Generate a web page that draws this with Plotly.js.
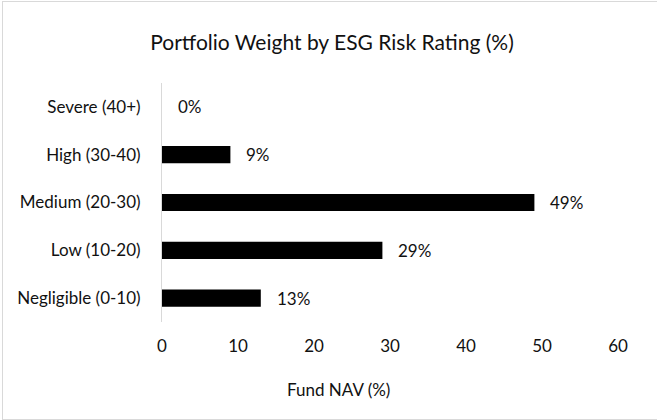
<!DOCTYPE html>
<html><head><meta charset="utf-8">
<script src="https://cdn.plot.ly/plotly-3.0.1.min.js"></script>
<style>
html,body{margin:0;padding:0;background:#fff;}
#wrap{position:relative;width:657px;height:420px;overflow:hidden;}
#chart{position:absolute;left:0;top:0;width:657px;height:420px;}
#frame{position:absolute;left:2px;top:1px;width:670px;height:417px;border:1px solid #d9d9d9;pointer-events:none;}
</style></head>
<body>
<div id="wrap"><div id="chart"></div><div id="frame"></div></div>
<script>
const categories = ["Negligible (0-10)", "Low (10-20)", "Medium (20-30)", "High (30-40)", "Severe (40+)"];
const weights = [13, 29, 49, 9, 0];
const labels = ["13%", "29%", "49%", "9%", "0%"];
const xTicks = [0, 10, 20, 30, 40, 50, 60];

const font = "Lato, 'Open Sans', sans-serif";
const txtColor = '#111111';
const annotations = categories.map((c, i) => ({
  x: weights[i], y: c, xref: 'x', yref: 'y', text: labels[i],
  showarrow: false, xanchor: 'left', xshift: 14,
  font: {family: font, size: 17, color: txtColor}
}));
annotations.push({
  x: (338-162)/456, y: (322-389) / 239, xref: 'paper', yref: 'paper', text: 'Fund NAV (%)',
  showarrow: false, xanchor: 'center', yanchor: 'middle',
  font: {family: font, size: 17, color: txtColor}
});

Plotly.newPlot('chart', [{
  type: 'bar', orientation: 'h', x: weights, y: categories,
  marker: {color: '#000000'}, hoverinfo: 'x+y'
}], {
  width: 657, height: 420,
  margin: {l: 162, r: 39, t: 83, b: 98, pad: 0},
  paper_bgcolor: '#ffffff', plot_bgcolor: '#ffffff',
  bargap: 0.64,
  showlegend: false,
  title: {text: 'Portfolio Weight by ESG Risk Rating (%)', x: 332/657, xanchor: 'center', y: 1 - 43/420, yanchor: 'middle',
    font: {family: font, size: 21, color: txtColor}},
  xaxis: {range: [0, 60], tickvals: xTicks, ticktext: xTicks.map(String), showgrid: false, zeroline: false,
    showline: false, ticks: '', ticklabelstandoff: 12,
    tickfont: {family: font, size: 17, color: txtColor}},
  yaxis: {type: 'category', categoryorder: 'array', categoryarray: categories, showgrid: false, zeroline: false,
    showline: true, linecolor: '#d9d9d9', linewidth: 1, ticks: '', ticklabelstandoff: 17,
    tickfont: {family: font, size: 17, color: txtColor}},
  annotations: annotations
}, {displayModeBar: false, staticPlot: true});
</script>
</body></html>
